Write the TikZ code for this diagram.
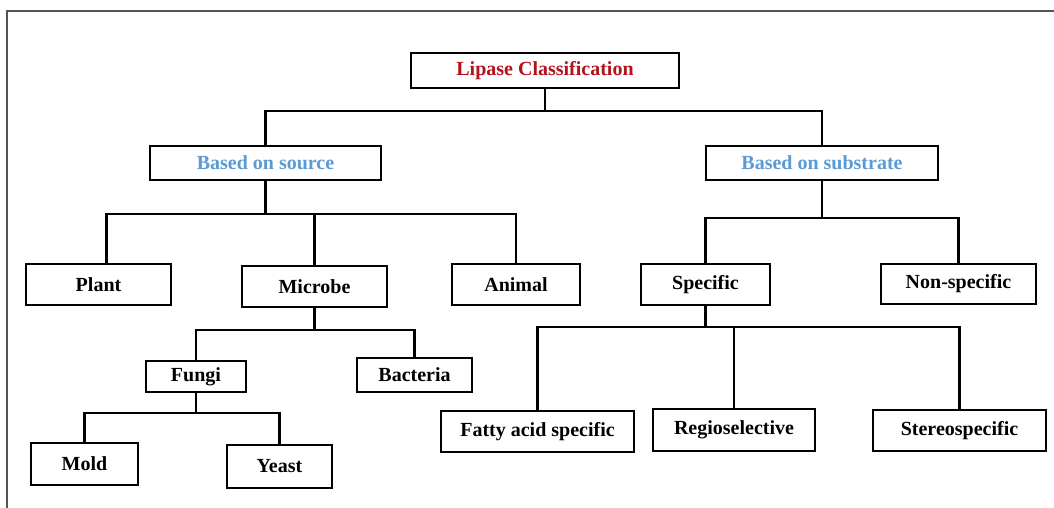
\documentclass[tikz,border=0pt]{standalone}
\usepackage{fontspec}
\setmainfont{Liberation Serif}
\definecolor{titlered}{RGB}{180,18,28}
\definecolor{srcblue}{RGB}{91,155,213}
\definecolor{framegray}{RGB}{85,85,85}
\begin{document}
\begin{tikzpicture}[x=1pt,y=-1pt,
  box/.style={draw=black,line width=2.8pt,fill=white,inner sep=0pt,
    font=\fontsize{20}{22}\selectfont\bfseries,text=black},
  conn/.style={draw=black,line width=2.6pt},
  frameline/.style={draw=framegray,line width=2pt}]
\useasboundingbox (0,0) rectangle (1054,508);
\fill[white] (0,0) rectangle (1054,508);
\draw[frameline] (7,508) -- (7,11) -- (1054,11);

% boxes
\node[box,minimum width=268pt,minimum height=35pt,text=titlered] (lipase) at (545,70.5) {Lipase Classification};
\node[box,minimum width=231pt,minimum height=34pt,text=srcblue] (src) at (265.5,163) {Based on source};
\node[box,minimum width=232pt,minimum height=34pt,text=srcblue] (sub) at (822,163) {Based on substrate};
\node[box,minimum width=145pt,minimum height=41pt] (plant) at (98.5,284.5) {Plant};
\node[box,minimum width=145pt,minimum height=41pt] (microbe) at (314.5,286.5) {Microbe};
\node[box,minimum width=128pt,minimum height=41pt] (animal) at (516,284.5) {Animal};
\node[box,minimum width=129pt,minimum height=41pt] (specific) at (705.5,284.5) {Specific};
\node[box,minimum width=155pt,minimum height=40pt] (nonspec) at (958.5,284) {Non-specific};
\node[box,minimum width=100pt,minimum height=31pt] (fungi) at (196,376.5) {Fungi};
\node[box,minimum width=115pt,minimum height=34pt] (bacteria) at (414.5,375) {Bacteria};
\node[box,minimum width=107pt,minimum height=42pt] (mold) at (84.5,464) {Mold};
\node[box,minimum width=105pt,minimum height=43pt] (yeast) at (279.5,466.5) {Yeast};
\node[box,minimum width=193pt,minimum height=41pt] (fatty) at (537.5,431.5) {Fatty acid specific};
\node[box,minimum width=162pt,minimum height=42pt] (regio) at (734,430) {Regioselective};
\node[box,minimum width=173pt,minimum height=41pt] (stereo) at (959.5,430.5) {Stereospecific};

% bus levels
\coordinate (b1) at (0,111);
\coordinate (b2) at (0,214);
\coordinate (b3) at (0,218);
\coordinate (b4) at (0,330);
\coordinate (b5) at (0,327);
\coordinate (b6) at (0,413);

% connectors
\draw[conn] (lipase.south) -- (lipase.south |- b1);
\draw[conn] (src.north) |- (b1 -| sub.north) -- (sub.north);

\draw[conn] (src.south) -- (src.south |- b2);
\draw[conn] ([xshift=8pt]plant.north) |- (b2 -| animal.north) -- (animal.north);
\draw[conn] (microbe.north) -- (microbe.north |- b2);

\draw[conn] (sub.south) -- (sub.south |- b3);
\draw[conn] (specific.north) |- (b3 -| nonspec.north) -- (nonspec.north);

\draw[conn] (microbe.south) -- (microbe.south |- b4);
\draw[conn] (fungi.north) |- (b4 -| bacteria.north) -- (bacteria.north);

\draw[conn] (specific.south) -- (specific.south |- b5);
\draw[conn] (fatty.north) |- (b5 -| stereo.north) -- (stereo.north);
\draw[conn] (regio.north) -- (regio.north |- b5);

\draw[conn] (fungi.south) -- (fungi.south |- b6);
\draw[conn] (mold.north) |- (b6 -| yeast.north) -- (yeast.north);
\end{tikzpicture}
\end{document}
